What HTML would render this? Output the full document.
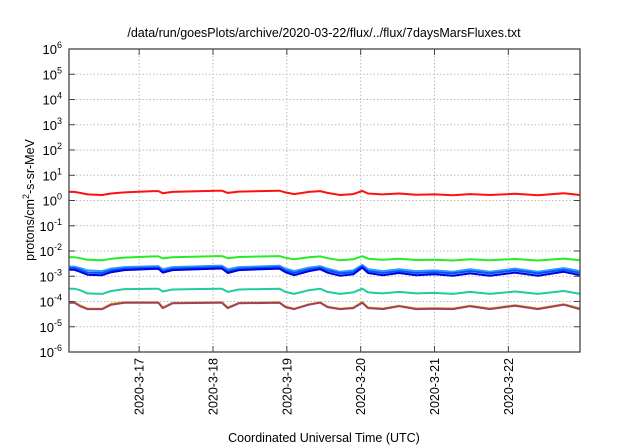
<!DOCTYPE html>
<html><head><meta charset="utf-8"><style>
body{margin:0;background:#fff;}
svg{display:block;font-family:"Liberation Sans",sans-serif;}
</style></head><body>
<svg id="chart" width="640" height="448">
<text x="324" y="37" font-size="12.5" text-anchor="middle">/data/run/goesPlots/archive/2020-03-22/flux/../flux/7daysMarsFluxes.txt</text>
<text x="324" y="442" font-size="12.5" text-anchor="middle">Coordinated Universal Time (UTC)</text>
<text transform="translate(34,200) rotate(-90)" font-size="12.5" text-anchor="middle">protons/cm<tspan dy="-5" font-size="9">2</tspan><tspan dy="5">-s-sr-MeV</tspan></text>
<g id="grid"></g><g id="series"></g><g id="axes"></g>
</svg>
<script>
const yTickExps=[-6,-5,-4,-3,-2,-1,0,1,2,3,4,5,6];
const xTickDays=[1,2,3,4,5,6];
const xTickLabels=["2020-3-17","2020-3-18","2020-3-19","2020-3-20","2020-3-21","2020-3-22"];
const times=[0.05,0.12,0.2,0.3,0.5,0.62,0.8,1.2,1.26,1.32,1.45,2.05,2.12,2.2,2.35,2.9,2.98,3.1,3.3,3.45,3.55,3.72,3.9,4.02,4.1,4.3,4.52,4.75,5.0,5.25,5.48,5.75,6.09,6.4,6.75,6.97];
const red=[2.2,2.2,2.0,1.75,1.65,1.9,2.1,2.35,2.35,1.95,2.2,2.45,2.45,2.0,2.25,2.45,2.1,1.8,2.2,2.35,2.0,1.65,1.8,2.4,1.9,1.75,1.9,1.7,1.75,1.6,1.8,1.65,1.85,1.6,1.95,1.65];
const green=[5.7e-3,5.7e-3,5.2e-3,4.5e-3,4.3e-3,4.9e-3,5.5e-3,6.1e-3,6.1e-3,5.1e-3,5.7e-3,6.3e-3,6.3e-3,5.2e-3,5.8e-3,6.3e-3,5.4e-3,4.7e-3,5.7e-3,6.1e-3,5.2e-3,4.3e-3,4.7e-3,6.2e-3,4.9e-3,4.5e-3,4.9e-3,4.4e-3,4.5e-3,4.2e-3,4.7e-3,4.3e-3,4.8e-3,4.2e-3,5.0e-3,4.3e-3];
const blueLight=[2.4e-3,2.4e-3,2.1e-3,1.7e-3,1.6e-3,2.0e-3,2.3e-3,2.5e-3,2.5e-3,1.9e-3,2.3e-3,2.6e-3,2.6e-3,1.9e-3,2.3e-3,2.6e-3,2.0e-3,1.6e-3,2.2e-3,2.5e-3,2.0e-3,1.5e-3,1.7e-3,2.8e-3,1.9e-3,1.6e-3,1.9e-3,1.6e-3,1.7e-3,1.5e-3,1.9e-3,1.5e-3,2.0e-3,1.5e-3,2.1e-3,1.6e-3];
const blueMid=[2.1e-3,2.1e-3,1.8e-3,1.4e-3,1.35e-3,1.7e-3,2.0e-3,2.2e-3,2.2e-3,1.6e-3,2.0e-3,2.3e-3,2.3e-3,1.6e-3,2.0e-3,2.3e-3,1.7e-3,1.35e-3,1.9e-3,2.2e-3,1.7e-3,1.3e-3,1.45e-3,2.5e-3,1.6e-3,1.35e-3,1.6e-3,1.35e-3,1.45e-3,1.3e-3,1.6e-3,1.3e-3,1.7e-3,1.3e-3,1.8e-3,1.35e-3];
const blueDark=[1.8e-3,1.8e-3,1.5e-3,1.15e-3,1.1e-3,1.45e-3,1.75e-3,1.95e-3,1.95e-3,1.4e-3,1.75e-3,2.0e-3,2.0e-3,1.35e-3,1.75e-3,2.0e-3,1.45e-3,1.1e-3,1.6e-3,1.9e-3,1.4e-3,1.05e-3,1.2e-3,2.2e-3,1.35e-3,1.1e-3,1.35e-3,1.1e-3,1.2e-3,1.05e-3,1.3e-3,1.05e-3,1.4e-3,1.05e-3,1.5e-3,1.1e-3];
const teal=[3.2e-4,3.2e-4,2.8e-4,2.1e-4,2.0e-4,2.6e-4,3.1e-4,3.2e-4,3.2e-4,2.5e-4,3.0e-4,3.2e-4,3.2e-4,2.4e-4,3.0e-4,3.2e-4,2.4e-4,2.0e-4,2.8e-4,3.2e-4,2.4e-4,2.0e-4,2.3e-4,3.2e-4,2.3e-4,2.1e-4,2.4e-4,2.1e-4,2.2e-4,2.0e-4,2.4e-4,2.0e-4,2.5e-4,2.0e-4,2.6e-4,2.0e-4];
const yellow=[9.5e-5,9.5e-5,7e-5,5.2e-5,5.2e-5,8e-5,9.3e-5,9.3e-5,9.3e-5,5.8e-5,8.8e-5,9.3e-5,9.3e-5,5.8e-5,8.8e-5,9.3e-5,6.3e-5,5.2e-5,7.8e-5,9.3e-5,6.3e-5,5.2e-5,5.8e-5,9.5e-5,5.8e-5,5.3e-5,6.8e-5,5.3e-5,5.5e-5,5.3e-5,6.8e-5,5.3e-5,7.1e-5,5.3e-5,7.8e-5,5.3e-5];
const brown=[9e-5,9e-5,6.5e-5,5e-5,5e-5,7.5e-5,9e-5,9e-5,9e-5,5.5e-5,8.5e-5,9e-5,9e-5,5.5e-5,8.5e-5,9e-5,6e-5,5e-5,7.5e-5,9e-5,6e-5,5e-5,5.5e-5,9e-5,5.5e-5,5e-5,6.5e-5,5e-5,5.2e-5,5e-5,6.5e-5,5e-5,6.8e-5,5e-5,7.5e-5,5e-5];
const seriesList=[[yellow,"#e0b000","series-yellow"],[brown,"#a04060","series-brown"],[teal,"#20cc99","series-teal"],[blueLight,"#3399ff","series-light-blue"],[blueMid,"#0055ff","series-blue"],[blueDark,"#0000dd","series-dark-blue"],[green,"#22ee22","series-green"],[red,"#ff1010","series-red"]];
const L=69,R=580,T=49,B=352,D0=0.05,D1=6.97;
const xs=d=>L+(d-D0)/(D1-D0)*(R-L);
const ys=v=>B-(Math.log10(v)+6)/12*(B-T);
const NS="http://www.w3.org/2000/svg";
function mk(tag,parent){const e=document.createElementNS(NS,tag);parent.appendChild(e);return e;}
const grid=document.getElementById("grid"),axes=document.getElementById("axes"),ser=document.getElementById("series");
yTickExps.forEach(e=>{
  const y=ys(Math.pow(10,e));
  if(e>-6&&e<6){const g=mk("line",grid);g.setAttribute("x1",L);g.setAttribute("x2",R);g.setAttribute("y1",y);g.setAttribute("y2",y);g.setAttribute("stroke","#bbb");g.setAttribute("stroke-dasharray","1.5,2");
  
  }
  [[L,L+6],[R-6,R]].forEach(p=>{const t=mk("line",axes);t.setAttribute("x1",p[0]);t.setAttribute("x2",p[1]);t.setAttribute("y1",y);t.setAttribute("y2",y);t.setAttribute("stroke","#444");
  
  });
  const tx=mk("text",axes);tx.setAttribute("x",L-7);tx.setAttribute("y",y+5);tx.setAttribute("text-anchor","end");tx.setAttribute("font-size","13");
  
  
  tx.innerHTML='10<tspan dy="-6" font-size="9">'+e+'</tspan>';
});
xTickDays.forEach((d,i)=>{
  const x=xs(d);
  const g=mk("line",grid);g.setAttribute("x1",x);g.setAttribute("x2",x);g.setAttribute("y1",T);g.setAttribute("y2",B);g.setAttribute("stroke","#bbb");g.setAttribute("stroke-dasharray","1.5,2");
  
  
  [[B-6,B],[T,T+6]].forEach(p=>{const t=mk("line",axes);t.setAttribute("x1",x);t.setAttribute("x2",x);t.setAttribute("y1",p[0]);t.setAttribute("y2",p[1]);t.setAttribute("stroke","#444");
  
  });
  const tx=mk("text",axes);tx.setAttribute("transform","translate("+(x+4.5)+","+(B+6)+") rotate(-90)");tx.setAttribute("text-anchor","end");tx.setAttribute("font-size","12.5");
  
  
  tx.textContent=xTickLabels[i];
});
const fr=mk("rect",axes);fr.setAttribute("x",L);fr.setAttribute("y",T);fr.setAttribute("width",R-L);fr.setAttribute("height",B-T);fr.setAttribute("fill","none");fr.setAttribute("stroke","#444");fr.setAttribute("stroke-width","1.3");


seriesList.forEach(s=>{
  const p=mk("polyline",ser);
  p.setAttribute("points",times.map((t,i)=>xs(t).toFixed(1)+","+ys(s[0][i]).toFixed(1)).join(" "));
  p.setAttribute("fill","none");p.setAttribute("stroke",s[1]);p.setAttribute("stroke-width","2");p.setAttribute("stroke-linejoin","round");
  
  
});
</script>
</body></html>
